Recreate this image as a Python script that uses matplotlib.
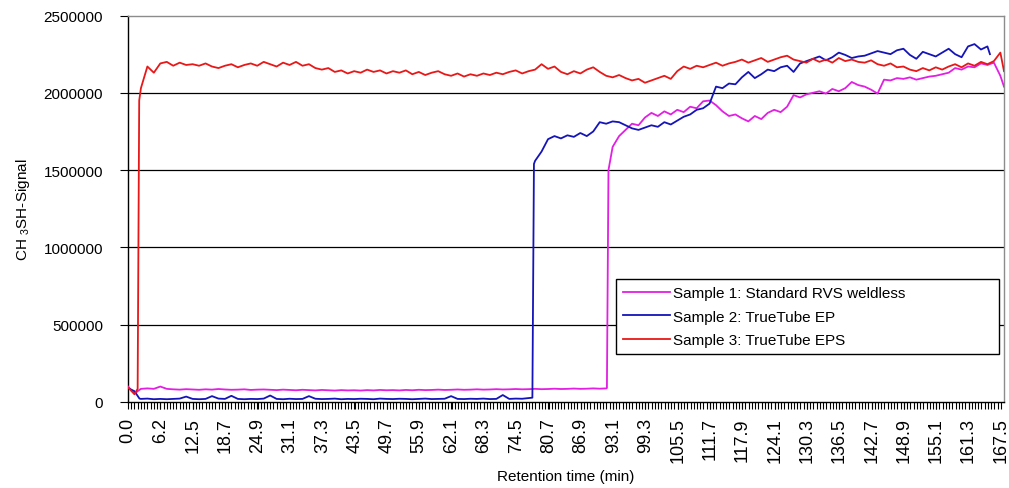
import numpy as np
import matplotlib
matplotlib.use("Agg")
import matplotlib.pyplot as plt
from matplotlib.ticker import FixedLocator

plt.rcParams['font.family'] = ['Liberation Sans', 'DejaVu Sans']
plt.rcParams['mathtext.fontset'] = 'custom'
plt.rcParams['mathtext.rm'] = 'Liberation Sans'
plt.rcParams['mathtext.default'] = 'regular'

# ---- data -------------------------------------------------------------
sample_step_min = 1.24          # sampling interval of the values below (min)

# Sample 3: TrueTube EPS (red), values in thousands
red_k = [95, 50, 2030, 2170, 2130, 2190, 2200, 2175, 2195, 2180,
         2185, 2175, 2190, 2170, 2160, 2175, 2185, 2165, 2180, 2190,
         2175, 2200, 2185, 2170, 2195, 2180, 2200, 2175, 2185, 2160,
         2150, 2160, 2135, 2145, 2125, 2140, 2130, 2150, 2135, 2145,
         2125, 2140, 2130, 2145, 2120, 2135, 2115, 2130, 2140, 2120,
         2110, 2125, 2105, 2120, 2110, 2125, 2115, 2130, 2120, 2135,
         2145, 2125, 2140, 2150, 2185, 2155, 2170, 2135, 2120, 2140,
         2125, 2150, 2165, 2135, 2110, 2100, 2115, 2095, 2080, 2090,
         2065, 2080, 2095, 2110, 2090, 2140, 2170, 2155, 2175, 2165,
         2180, 2195, 2175, 2190, 2200, 2215, 2195, 2210, 2225, 2200,
         2215, 2230, 2240, 2215, 2205, 2195, 2220, 2200, 2215, 2195,
         2225, 2205, 2215, 2200, 2195, 2210, 2185, 2175, 2190, 2165,
         2170, 2150, 2140, 2160, 2145, 2165, 2150, 2170, 2185, 2165,
         2190, 2175, 2200, 2185, 2205, 2260]
red_extra_t = [1.85, 2.15, 168.1]
red_extra_k = [85, 1950, 2140]

# Sample 2: TrueTube EP (blue), values in thousands
blue_k = [90, 70, 20, 22, 18, 20, 18, 20, 22, 35,
          20, 18, 20, 38, 22, 20, 40, 20, 18, 20,
          19, 22, 42, 20, 18, 21, 19, 20, 38, 21,
          19, 20, 22, 18, 20, 19, 21, 20, 18, 22,
          20, 19, 21, 20, 18, 20, 22, 19, 20, 21,
          38, 20, 19, 21, 20, 22, 19, 20, 45, 20,
          22, 21, 25, 1560, 1620, 1700, 1720, 1705, 1725, 1715,
          1740, 1720, 1750, 1810, 1800, 1815, 1810, 1790, 1770, 1760,
          1775, 1790, 1780, 1810, 1795, 1820, 1845, 1860, 1890, 1900,
          1930, 2040, 2030, 2060, 2055, 2100, 2135, 2095, 2120, 2150,
          2140, 2165, 2175, 2135, 2190, 2205, 2220, 2235, 2210, 2230,
          2260, 2245, 2225, 2235, 2240, 2255, 2270, 2260, 2250, 2275,
          2285, 2245, 2220, 2265, 2250, 2235, 2260, 2285, 2250, 2230,
          2300, 2315, 2280, 2300]
blue_extra_t = [2.2, 77.6, 77.9, 165.4]
blue_extra_k = [22, 28, 1540, 2250]

# Sample 1: Standard RVS weldless (magenta), values in thousands
mag_k = [100, 55, 85, 88, 85, 100, 85, 82, 80, 83,
         81, 79, 82, 80, 84, 81, 79, 80, 82, 78,
         80, 81, 79, 77, 80, 78, 76, 79, 77, 75,
         78, 76, 74, 77, 75, 76, 74, 77, 75, 78,
         76, 77, 75, 78, 76, 79, 77, 78, 80, 78,
         79, 81, 79, 80, 82, 80, 81, 83, 81, 82,
         84, 82, 83, 85, 83, 84, 86, 84, 85, 87,
         85, 86, 88, 86, 88, 1650, 1720, 1760, 1800, 1790,
         1840, 1870, 1850, 1880, 1860, 1890, 1875, 1910, 1900, 1945,
         1950, 1920, 1880, 1850, 1860, 1835, 1815, 1850, 1830, 1870,
         1890, 1875, 1910, 1985, 1970, 1990, 2000, 2010, 1995, 2025,
         2010, 2030, 2070, 2050, 2040, 2020, 1995, 2085, 2080, 2095,
         2090, 2100, 2085, 2095, 2105, 2110, 2120, 2130, 2160, 2150,
         2170, 2165, 2190, 2180, 2195, 2110]
mag_extra_t = [91.9, 92.2, 168.1]
mag_extra_k = [90, 1500, 2040]

series_labels = ["Sample 1: Standard RVS weldless",
                 "Sample 2: TrueTube EP",
                 "Sample 3: TrueTube EPS"]
x_tick_labels = ["0.0", "6.2", "12.5", "18.7", "24.9", "31.1", "37.3",
                 "43.5", "49.7", "55.9", "62.1", "68.3", "74.5", "80.7",
                 "86.9", "93.1", "99.3", "105.5", "111.7", "117.9", "124.1",
                 "130.3", "136.5", "142.7", "148.9", "155.1", "161.3", "167.5"]
y_ticks = [0, 500000, 1000000, 1500000, 2000000, 2500000]
n_minor_ticks = 270


def build(vals_k, extra_t, extra_k):
    t = np.arange(len(vals_k)) * sample_step_min
    t = np.concatenate([t, np.array(extra_t)])
    v = np.concatenate([np.array(vals_k, float), np.array(extra_k, float)]) * 1000
    order = np.argsort(t)
    return t[order], v[order]


fig = plt.figure(figsize=(10.09, 4.89), dpi=100)
ax = fig.add_axes([128/1009, 1 - 403/489, 876/1009, 386.5/489])

colors = ['#E21FE2', '#1414B8', '#E81818']
tm, vm = build(mag_k, mag_extra_t, mag_extra_k)
tb, vb = build(blue_k, blue_extra_t, blue_extra_k)
tr, vr = build(red_k, red_extra_t, red_extra_k)
l1, = ax.plot(tm, vm, color=colors[0], lw=1.3, zorder=3)
l2, = ax.plot(tb, vb, color=colors[1], lw=1.3, zorder=4)
l3, = ax.plot(tr, vr, color=colors[2], lw=1.3, zorder=5)

ax.set_xlim(0, 168.1)
ax.set_ylim(0, 2500000)

ax.set_yticks(y_ticks)
ax.set_yticklabels([str(v) for v in y_ticks], fontsize=11)
for yv in y_ticks[1:-1]:
    ax.axhline(yv, color='black', lw=0.9, zorder=1)

xt = [float(s) for s in x_tick_labels]
ax.set_xticks(xt)
ax.set_xticklabels(x_tick_labels, rotation=90, fontsize=13)
ax.xaxis.set_minor_locator(FixedLocator(np.arange(n_minor_ticks + 2) * 167.5 / n_minor_ticks))
ax.tick_params(axis='x', which='both', direction='out', length=5, width=0.8,
               color='black', pad=6)
ax.tick_params(axis='y', which='major', direction='out', length=6, width=0.8,
               pad=12)

for s in ['left', 'bottom']:
    ax.spines[s].set_color('black')
    ax.spines[s].set_linewidth(1.0)
for s in ['top', 'right']:
    ax.spines[s].set_color('#8c8c8c')
    ax.spines[s].set_linewidth(1.0)

ax.set_xlabel('Retention time (min)', fontsize=11, labelpad=5)
ax.set_ylabel('CH $_3$SH-Signal', fontsize=11, labelpad=8)

leg = ax.legend([l1, l2, l3], series_labels, loc='lower left',
                bbox_to_anchor=(0.557, 0.124, 0.437, 0.194), mode='expand',
                borderaxespad=0, fancybox=False, framealpha=1,
                edgecolor='black', fontsize=11, handlelength=3.1,
                handletextpad=0.2, labelspacing=0.62, borderpad=0.45)
leg.get_frame().set_linewidth(1.0)

fig.savefig('out.png', dpi=100)
